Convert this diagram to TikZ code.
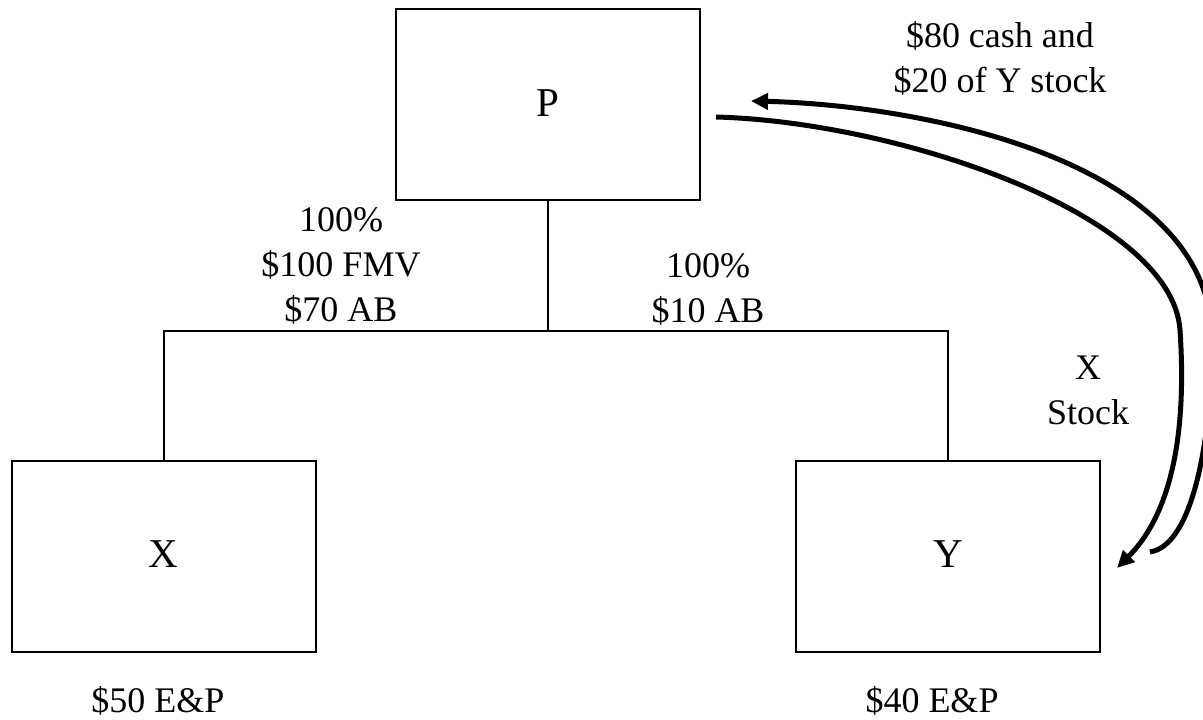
\documentclass[tikz,border=0pt]{standalone}
\usepackage{fontspec}
\setmainfont{Liberation Serif}
\usetikzlibrary{arrows.meta}
\begin{document}
\begin{tikzpicture}[x=1pt,y=-1pt,
  entity/.style={draw,line width=2pt,minimum width=304pt,minimum height=191pt,inner sep=0pt},
  lbl/.style={inner sep=0pt,align=center,font=\fontsize{36}{45}\selectfont},
  corpname/.style={inner sep=0pt,font=\fontsize{41}{49}\selectfont},
  tree/.style={line width=2pt},
  flow/.style={line width=5pt,-{Triangle[length=17pt,width=16pt]}}]
\useasboundingbox (0,0) rectangle (1203,720);
\clip (0,0) rectangle (1203,720);

% corporations
\node[entity] (P) at (548,104.5) {};
\node[entity] (X) at (163.5,556.5) {};
\node[entity] (Y) at (948,556.5) {};
\node[corpname,anchor=base] (pl) at (548,116) {P};
\node[corpname,anchor=base] (xl) at (163.5,567) {X};
\node[corpname,anchor=base] (yl) at (948,567) {Y};

% ownership tree
\coordinate (bus) at (548,331);
\draw[tree] (P.south) -- (bus);
\draw[tree] (X.north) |- (bus) -| (Y.north);

% ownership details
\node[lbl] (xo) at (341,266) {100\%\\\$100 FMV\\\$70 AB};
\node[lbl] (yo) at (708,289) {100\%\\\$10 AB};

% earnings and profits
\node[lbl,anchor=base] (xe) at (158,712) {\$50 E\&P};
\node[lbl,anchor=base] (ye) at (932,712) {\$40 E\&P};

% exchange
\coordinate (ps) at (716,117);
\coordinate (pt) at (751,101);
\coordinate (ys) at (1150,552);
\coordinate (yt) at (1117,568);
\draw[flow] (ps) .. controls (900,122) and (1172,215) .. (1180,330)
  .. controls (1188,450) and (1165,520) .. (yt);
\draw[flow] (ys) .. controls (1195,545) and (1212,430) .. (1212,340)
  .. controls (1212,160) and (920,105) .. (pt);
\node[lbl] (cash) at (1000,58) {\$80 cash and\\\$20 of Y stock};
\node[lbl] (xs) at (1088,390) {X\\Stock};
\end{tikzpicture}
\end{document}
